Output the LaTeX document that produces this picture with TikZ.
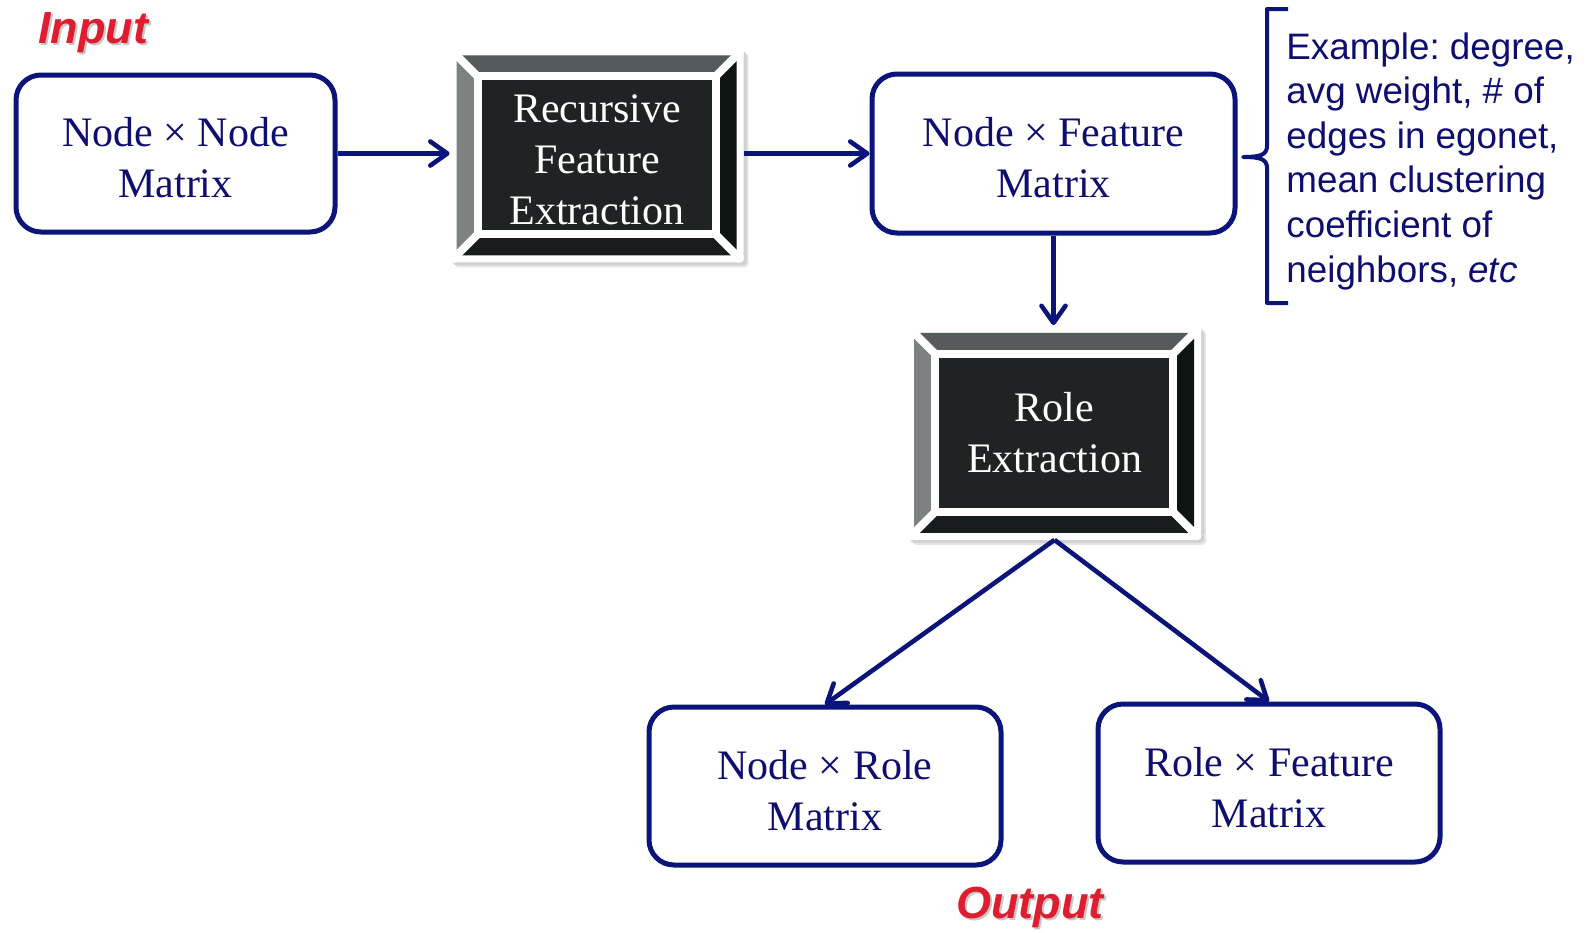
\documentclass[tikz,border=0pt]{standalone}
\usepackage{fontspec}
\setmainfont{Liberation Serif}
\newfontfamily\labelsans{Liberation Sans}
\usetikzlibrary{arrows.meta,backgrounds}
\frenchspacing

\definecolor{flowblue}{RGB}{10,20,122}
\definecolor{flowtext}{RGB}{14,14,112}
\definecolor{tagred}{RGB}{222,30,48}
\definecolor{bevtop}{HTML}{565A5A}
\definecolor{bevleft}{HTML}{7D8181}
\definecolor{bevright}{HTML}{0E1412}
\definecolor{bevbottom}{HTML}{191C1C}
\definecolor{bevface}{HTML}{1F2323}

% invisible strut that pads the first line of a box label at the top
\newcommand\toppad{\rule{0pt}{19pt}}

\tikzset{
  matbox/.style={draw=flowblue, line width=2.5pt, rounded corners=12.5pt,
    fill=white, text=flowtext, align=center, inner sep=0pt,
    font=\fontsize{21}{25.5}\selectfont},
  bevelbox/.style={inner sep=0pt, minimum width=147pt, minimum height=107pt,
    text=white, align=center, font=\fontsize{21}{25.5}\selectfont},
  flow/.style={draw=flowblue, line width=2.3pt,
    -{Straight Barb[length=8.5pt,width=12pt,round]}},
  tag/.style={font=\labelsans\bfseries\itshape\fontsize{22.5}{26}\selectfont, text=tagred},
  tagshadow/.style={font=\labelsans\bfseries\itshape\fontsize{22.5}{26}\selectfont, text=black!22}
}

% white frame, shadow and bevelled panel drawn behind a node of style bevelbox
\newcommand\bevelbehind[1]{%
  \begin{scope}[on background layer, shift={(#1.south west)}, x=1pt, y=1pt]
    \fill[black!10, rounded corners=2pt] (2.5,-2.5) rectangle (149.5,104.5);
    \fill[black!18, rounded corners=2pt] (1.5,-1.5) rectangle (148.5,105.5);
    \fill[white, rounded corners=1.5pt] (0,0) rectangle (147,107);
    \fill[bevtop]    (3.5,103.5) -- (143.5,103.5) -- (133,93) -- (14,93) -- cycle;
    \fill[bevleft]   (3.5,3.5) -- (3.5,103.5) -- (14,93) -- (14,14) -- cycle;
    \fill[bevright]  (143.5,3.5) -- (143.5,103.5) -- (133,93) -- (133,14) -- cycle;
    \fill[bevbottom] (3.5,3.5) -- (143.5,3.5) -- (133,14) -- (14,14) -- cycle;
    \fill[bevface]   (14,14) rectangle (133,93);
    \draw[white, line width=4pt]
      (1,1) -- (14,14) (146,1) -- (133,14) (1,106) -- (14,93) (146,106) -- (133,93);
    \draw[white, line width=4pt] (14,14) rectangle (133,93);
  \end{scope}}

\begin{document}
\begin{tikzpicture}[x=0.5pt, y=-0.5pt]
  \useasboundingbox (0,0) rectangle (1590,932);

  % processing and data nodes
  \node[matbox, minimum width=159.5pt, minimum height=78.5pt] (nn) at (175.5,153.5) {\toppad Node × Node\\Matrix};
  \node[bevelbox] (rfe) at (597,155) {\toppad Recursive\\Feature\\Extraction};
  \node[matbox, minimum width=181.5pt, minimum height=79.5pt] (nf) at (1053.5,153.5) {\toppad Node × Feature\\Matrix};
  \node[bevelbox] (re) at (1054.5,432.5) {Role\\Extraction};
  \node[matbox, minimum width=176pt, minimum height=79pt] (nr) at (825,786) {\toppad Node × Role\\Matrix};
  \node[matbox, minimum width=171pt, minimum height=79pt] (rf) at (1269,783) {\toppad Role × Feature\\Matrix};

  \bevelbehind{rfe}
  \bevelbehind{re}

  % flow of the pipeline
  \draw[flow] (nn.east) -- (rfe.west |- nn.east);
  \draw[flow] (rfe.east |- nf.west) -- (nf.west);
  \draw[flow] (nf.south) -- (re.north -| nf.south);
  \draw[flow] (re.south) -- (nr.north);
  \draw[flow] (re.south) -- (rf.north);

  % feature examples with bracket
  \coordinate (brtop) at (1288,9);
  \coordinate (brbot) at (1288,303);
  \coordinate (brtip) at (1243,157);
  \draw[flowblue, line width=2pt, line join=round]
    (brtop) -- (1267,9) -- (1267,146) .. controls (1267,155) and (1260,157) .. (brtip)
    .. controls (1260,157) and (1267,159) .. (1267,168) -- (1267,303) -- (brbot);
  \node[anchor=north west, align=left, inner sep=0pt, text=flowtext,
        font=\labelsans\fontsize{18.4}{22.3}\selectfont] (examples) at (1286,32)
    {Example: degree,\\avg weight, \# of\\edges in egonet,\\mean clustering\\coefficient of\\neighbors, \textit{etc}};

  % input / output tags
  \node[tagshadow] at (95,35) {Input};
  \node[tag] (intag) at (93,33) {Input};
  \node[tagshadow] at (1032,909) {Output};
  \node[tag] (outtag) at (1030,907) {Output};
\end{tikzpicture}
\end{document}
